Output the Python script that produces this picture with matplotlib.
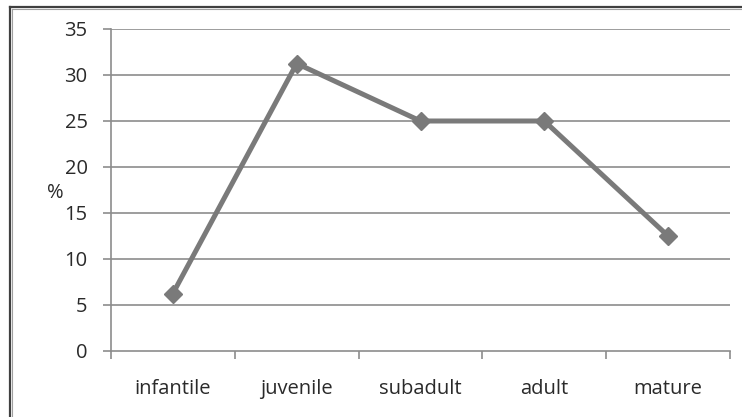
import matplotlib
matplotlib.use("Agg")
import matplotlib.pyplot as plt
from matplotlib.lines import Line2D

categories = ["infantile", "juvenile", "subadult", "adult", "mature"]
percent = [6.25, 31.25, 25.0, 25.0, 12.5]
y_ticks = [0, 5, 10, 15, 20, 25, 30, 35]

plt.rcParams["font.family"] = ["Open Sans", "DejaVu Sans"]

W, H = 742, 417
fig = plt.figure(figsize=(W / 100, H / 100), dpi=100)
fig.patch.set_facecolor("white")

ax = fig.add_axes([111 / W, 1 - 351 / H, (730 - 111) / W, (351 - 29) / H])

grid_c = "#8c8c8c"
line_c = "#7a7a7a"
text_c = "#2a2a2a"
x = list(range(len(categories)))
ax.plot(x, percent, color=line_c, lw=3.6, marker="D", markersize=9.5,
        markerfacecolor=line_c, markeredgecolor=line_c, solid_joinstyle="miter",
        zorder=3, clip_on=False)

ax.set_xlim(-0.5, len(categories) - 0.5)
ax.set_ylim(0, 35)
ax.set_yticks(y_ticks)
ax.set_xticks(x)
ax.set_xticklabels(categories)
ax.set_xticks([i - 0.5 for i in range(len(categories) + 1)], minor=True)

for v in y_ticks[1:]:
    ax.axhline(v, color=grid_c, lw=1.2, zorder=1)

for s in ["top", "right"]:
    ax.spines[s].set_visible(False)
for s in ["left", "bottom"]:
    ax.spines[s].set_color(grid_c)
    ax.spines[s].set_linewidth(1.2)

ax.tick_params(axis="y", direction="out", length=5.8, width=1.2, color=grid_c,
               pad=11, labelsize=14.5, labelcolor=text_c)
ax.tick_params(axis="x", which="major", length=0, pad=20, labelsize=14.5,
               labelcolor=text_c)
ax.tick_params(axis="x", which="minor", direction="out", length=5.8, width=1.2,
               color=grid_c)

fig.text(55 / W, 1 - 193 / H, "%", ha="center", va="center", fontsize=14.5,
         color=text_c)

# outer frame of the chart area
border = "#404040"
fig.add_artist(Line2D([9.5 / W, 9.5 / W], [0, 1 - 6.5 / H], transform=fig.transFigure,
                      color=border, lw=1.6))
fig.add_artist(Line2D([12.5 / W, 12.5 / W], [0, 1 - 9 / H], transform=fig.transFigure,
                      color="#a0a0a0", lw=0.8))
fig.add_artist(Line2D([9.5 / W, 1], [1 - 6.5 / H, 1 - 6.5 / H], transform=fig.transFigure,
                      color=border, lw=1.6))
fig.add_artist(Line2D([12.5 / W, 1], [1 - 9 / H, 1 - 9 / H], transform=fig.transFigure,
                      color="#a0a0a0", lw=0.8))

fig.savefig("out.png", dpi=100, facecolor="white")
